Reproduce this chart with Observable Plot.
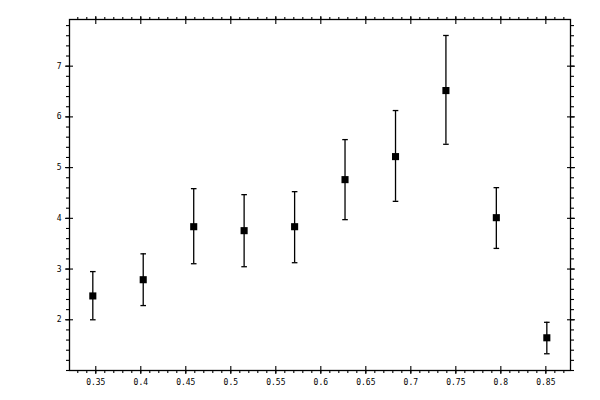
<!DOCTYPE html>
<html>
<head>
<meta charset="utf-8">
<script src="https://cdn.jsdelivr.net/npm/d3@7"></script>
<script src="https://cdn.jsdelivr.net/npm/@observablehq/plot@0.6"></script>
<style>
  html, body { margin: 0; padding: 0; background: #fff; }
</style>
</head>
<body>
<div id="chart"></div>
<script>
const xValues = [0.3467, 0.4027, 0.4588, 0.5148, 0.5709, 0.6269, 0.6830, 0.7390, 0.7950, 0.8511];
const yValues = [2.47, 2.79, 3.835, 3.757, 3.835, 4.763, 5.217, 6.519, 4.013, 1.645];
const yLow    = [2.00, 2.28, 3.105, 3.046, 3.125, 3.974, 4.335, 5.46, 3.407, 1.33];
const yHigh   = [2.95, 3.30, 4.585, 4.467, 4.526, 5.552, 6.125, 7.605, 4.605, 1.95];

const xMajor = [0.35, 0.4, 0.45, 0.5, 0.55, 0.6, 0.65, 0.7, 0.75, 0.8, 0.85];
const xMajorLabels = ["0.35", "0.4", "0.45", "0.5", "0.55", "0.6", "0.65", "0.7", "0.75", "0.8", "0.85"];
const xMinor = d3.range(33, 88).map(i => i / 100);
const yMajor = [2, 3, 4, 5, 6, 7];
const yMinor = d3.range(5, 40).map(i => i / 5);

const data = xValues.map((x, i) => ({x, y: yValues[i], lo: yLow[i], hi: yHigh[i]}));

const capSymbol = {
  draw(context, size) {
    const w = 2.8;
    context.moveTo(-w, 0);
    context.lineTo(w, 0);
  }
};

const noText = () => "";
const sw = 1.1;

const chart = Plot.plot({
  width: 600,
  height: 400,
  marginLeft: 69,
  marginRight: 30,
  marginTop: 19,
  marginBottom: 30,
  style: {fontFamily: "'DejaVu Sans Mono', monospace", fontSize: "8px", background: "#fff", color: "#000"},
  x: {domain: [0.3208, 0.8774]},
  y: {domain: [1.0, 7.92]},
  marks: [
    // bottom axis
    Plot.axisX({anchor: "bottom", ticks: xMajor, tickSize: 4, tickPadding: 5, tickFormat: (d, i) => xMajorLabels[i], label: null, strokeWidth: sw}),
    Plot.axisX({anchor: "bottom", ticks: xMajor, tickSize: -4, tickFormat: noText, label: null, strokeWidth: sw}),
    Plot.axisX({anchor: "bottom", ticks: xMinor, tickSize: 3, tickFormat: noText, label: null, strokeWidth: sw}),
    // top axis
    Plot.axisX({anchor: "top", ticks: xMajor, tickSize: 4, tickFormat: noText, label: null, strokeWidth: sw}),
    Plot.axisX({anchor: "top", ticks: xMajor, tickSize: -4, tickFormat: noText, label: null, strokeWidth: sw}),
    Plot.axisX({anchor: "top", ticks: xMinor, tickSize: 3, tickFormat: noText, label: null, strokeWidth: sw}),
    // left axis
    Plot.axisY({anchor: "left", ticks: yMajor, tickSize: 4, tickPadding: 4, tickFormat: d => String(d), label: null, strokeWidth: sw}),
    Plot.axisY({anchor: "left", ticks: yMajor, tickSize: -4, tickFormat: noText, label: null, strokeWidth: sw}),
    Plot.axisY({anchor: "left", ticks: yMinor, tickSize: 3, tickFormat: noText, label: null, strokeWidth: sw}),
    // right axis
    Plot.axisY({anchor: "right", ticks: yMajor, tickSize: 4, tickFormat: noText, label: null, strokeWidth: sw}),
    Plot.axisY({anchor: "right", ticks: yMajor, tickSize: -4, tickFormat: noText, label: null, strokeWidth: sw}),
    Plot.axisY({anchor: "right", ticks: yMinor, tickSize: 3, tickFormat: noText, label: null, strokeWidth: sw}),
    Plot.frame({stroke: "#000", strokeWidth: 1.3}),
    // error bars
    Plot.ruleX(data, {x: "x", y1: "lo", y2: "hi", stroke: "#000", strokeWidth: 1.3}),
    Plot.dot(data, {x: "x", y: "lo", symbol: capSymbol, r: 3, stroke: "#000", strokeWidth: 1.3, fill: "none"}),
    Plot.dot(data, {x: "x", y: "hi", symbol: capSymbol, r: 3, stroke: "#000", strokeWidth: 1.3, fill: "none"}),
    // points
    Plot.dot(data, {x: "x", y: "y", symbol: "square", r: 4, fill: "#000", stroke: "none"})
  ]
});

document.getElementById("chart").appendChild(chart);
</script>
</body>
</html>
